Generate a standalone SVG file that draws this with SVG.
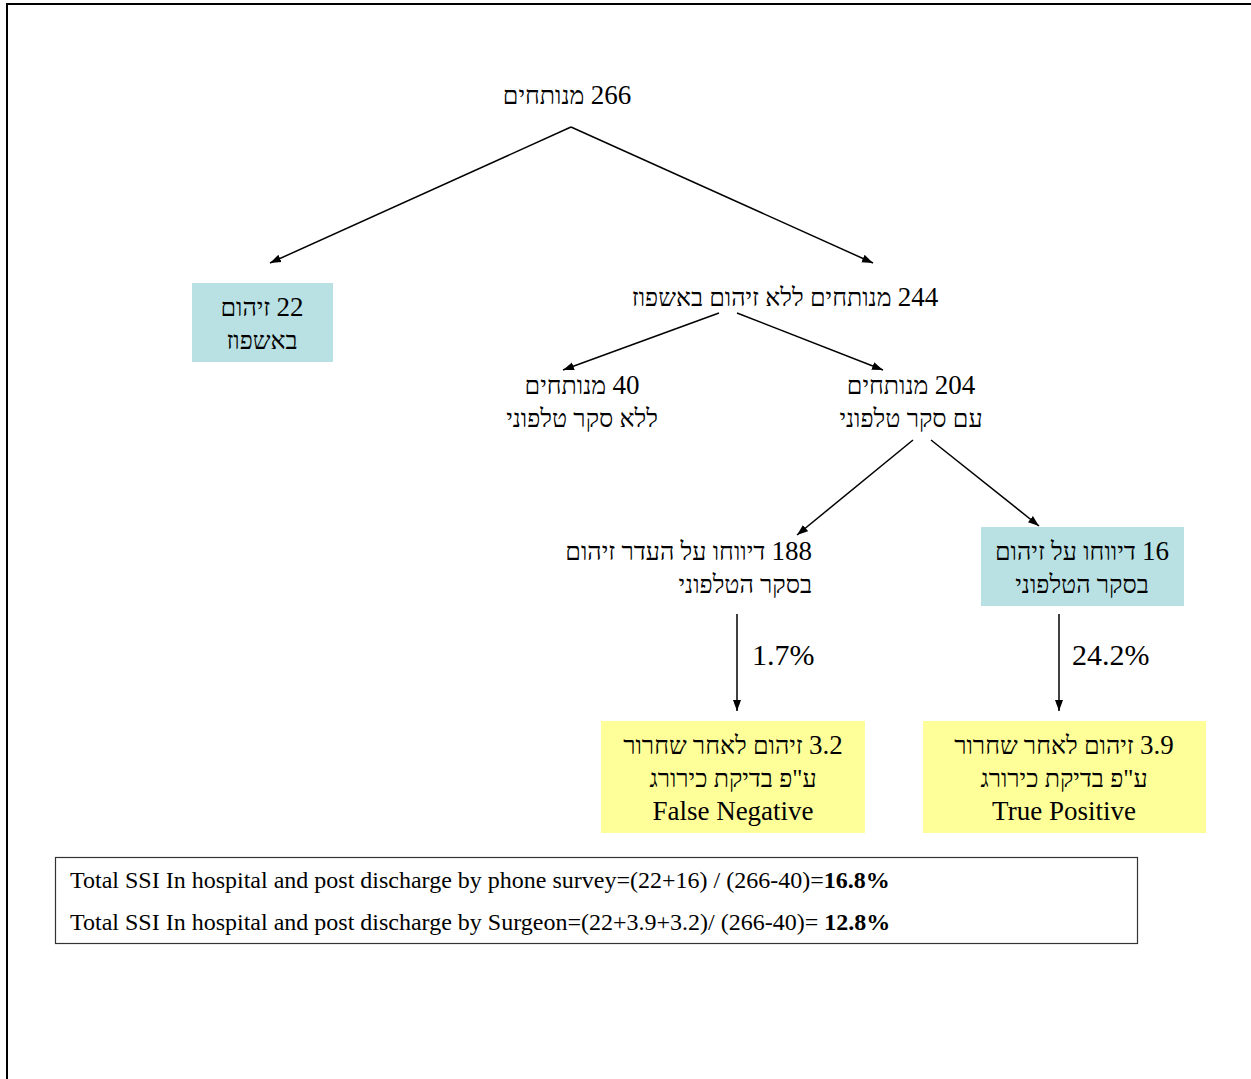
<svg xmlns="http://www.w3.org/2000/svg" width="1251" height="1079" viewBox="0 0 1251 1079">
<defs>
<marker id="ah" markerWidth="12" markerHeight="10" refX="11" refY="5" orient="auto" markerUnits="userSpaceOnUse">
<path d="M0,1 L11,5 L0,9 Z" fill="#000"/>
</marker>
<style>
text{font-family:"Liberation Serif","DejaVu Serif",serif;fill:#000}
.he{font-size:25px;direction:rtl;unicode-bidi:embed;text-anchor:middle}
.her{font-size:25px;direction:rtl;unicode-bidi:embed;text-anchor:start}
.d{font-size:27px}
.en{font-size:27px;text-anchor:middle}
.pc{font-size:30px}
.sum{font-size:24px}
.conn line{stroke:#000;stroke-width:1.5;marker-end:url(#ah)}
.teal{fill:#b9e0e3}
.yel{fill:#ffff99}
</style>
</defs>
<rect width="1251" height="1079" fill="#fff"/>
<path d="M7,1079 V4 H1251" fill="none" stroke="#000" stroke-width="2"/>
<g id="n266"><text class="he" x="567" y="104"><tspan class="d">266</tspan> מנותחים</text></g>
<g id="n22"><rect class="teal" x="192" y="283" width="141" height="79"/><text class="he" x="262" y="316"><tspan class="d">22</tspan> זיהום</text><text class="he" x="262" y="349">באשפוז</text></g>
<g id="n244"><text class="he" x="785" y="306"><tspan class="d">244</tspan> מנותחים ללא זיהום באשפוז</text></g>
<g id="n40"><text class="he" x="582" y="394"><tspan class="d">40</tspan> מנותחים</text><text class="he" x="582" y="427">ללא סקר טלפוני</text></g>
<g id="n204"><text class="he" x="911" y="394"><tspan class="d">204</tspan> מנותחים</text><text class="he" x="911" y="427">עם סקר טלפוני</text></g>
<g id="n188"><text class="her" x="812" y="560"><tspan class="d">188</tspan> דיווחו על העדר זיהום</text><text class="her" x="812" y="593">בסקר הטלפוני</text></g>
<g id="n16"><rect class="teal" x="981" y="527" width="203" height="79"/><text class="he" x="1082" y="560"><tspan class="d">16</tspan> דיווחו על זיהום</text><text class="he" x="1082" y="593">בסקר הטלפוני</text></g>
<g id="nFN"><rect class="yel" x="601" y="721" width="264" height="112"/><text class="he" x="733" y="754"><tspan class="d">3.2</tspan> זיהום לאחר שחרור</text><text class="he" x="733" y="787">ע"פ בדיקת כירורג</text><text class="en" x="733" y="820">False Negative</text></g>
<g id="nTP"><rect class="yel" x="923" y="721" width="283" height="112"/><text class="he" x="1064" y="754"><tspan class="d">3.9</tspan> זיהום לאחר שחרור</text><text class="he" x="1064" y="787">ע"פ בדיקת כירורג</text><text class="en" x="1064" y="820">True Positive</text></g>
<g id="summary"><rect x="55.5" y="857.5" width="1082" height="86" fill="none" stroke="#333" stroke-width="1.2"/>
<text class="sum" x="70" y="888">Total SSI In hospital and post discharge by phone survey=(22+16) / (266-40)=<tspan font-weight="bold">16.8%</tspan></text>
<text class="sum" x="70" y="930">Total SSI In hospital and post discharge by Surgeon=(22+3.9+3.2)/ (266-40)= <tspan font-weight="bold">12.8%</tspan></text></g>
<g id="connectors" class="conn">
<line x1="571" y1="127" x2="270" y2="263"/>
<line x1="571" y1="127" x2="873" y2="263"/>
<line x1="719" y1="313" x2="563" y2="370"/>
<line x1="737" y1="313" x2="883" y2="370"/>
<line x1="913" y1="440" x2="797" y2="535"/>
<line x1="931" y1="440" x2="1039" y2="526"/>
<line x1="737" y1="614" x2="737" y2="711"/>
<line x1="1059" y1="614" x2="1059" y2="711"/>
</g>
<g id="labels"><text class="pc" x="752" y="665">1.7%</text><text class="pc" x="1072" y="665">24.2%</text></g>
</svg>
